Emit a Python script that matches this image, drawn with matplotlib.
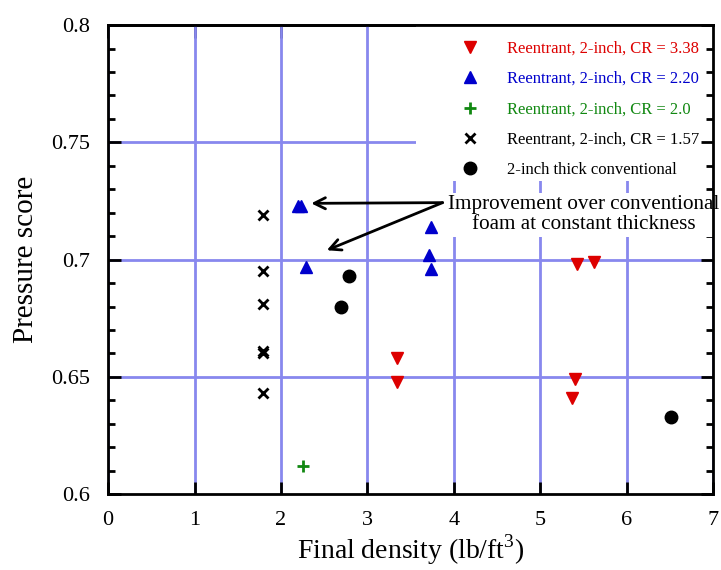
import matplotlib
matplotlib.use("Agg")
import matplotlib.pyplot as plt
from matplotlib.patches import Rectangle
from matplotlib.ticker import MultipleLocator

plt.rcParams["font.family"] = ["Liberation Serif", "DejaVu Serif"]

# data
cr338_x = [3.34, 3.34, 5.40, 5.37, 5.43, 5.62]
cr338_y = [0.658, 0.648, 0.649, 0.641, 0.698, 0.699]
cr220_x = [2.20, 2.23, 2.29, 3.74, 3.71, 3.74]
cr220_y = [0.723, 0.723, 0.697, 0.714, 0.702, 0.696]
cr20_x = [2.26]
cr20_y = [0.612]
cr157_x = [1.79, 1.79, 1.79, 1.79, 1.79, 1.79]
cr157_y = [0.719, 0.695, 0.681, 0.661, 0.660, 0.643]
conv_x = [2.79, 2.69, 6.51]
conv_y = [0.693, 0.680, 0.633]

labels = ["Reentrant, 2-inch, CR = 3.38", "Reentrant, 2-inch, CR = 2.20",
          "Reentrant, 2-inch, CR = 2.0", "Reentrant, 2-inch, CR = 1.57",
          "2-inch thick conventional"]
colors = ["#dd0000", "#0000cc", "#118811", "black", "black"]

fig = plt.figure(figsize=(7.21, 5.70), dpi=100)
ax = fig.add_axes([0.150, 0.133, 0.839, 0.823])

ax.plot(cr338_x, cr338_y, "v", color=colors[0], ms=9, ls="none", label=labels[0], zorder=3)
ax.plot(cr220_x, cr220_y, "^", color=colors[1], ms=9, ls="none", label=labels[1], zorder=3)
ax.plot(cr20_x, cr20_y, "+", color=colors[2], ms=8, mew=2, ls="none", label=labels[2], zorder=3)
ax.plot(cr157_x, cr157_y, "x", color=colors[3], ms=7, mew=2, ls="none", label=labels[3], zorder=3)
ax.plot(conv_x, conv_y, "o", color=colors[4], ms=9, ls="none", label=labels[4], zorder=3)

ax.set_xlim(0, 7)
ax.set_ylim(0.6, 0.8)
ax.xaxis.set_major_locator(MultipleLocator(1))
ax.yaxis.set_minor_locator(MultipleLocator(0.01))
ax.set_yticks([0.6, 0.65, 0.7, 0.75, 0.8])
ax.set_yticklabels(["0.6", "0.65", "0.7", "0.75", "0.8"])

# grid drawn by hand so it can sit under the legend / text boxes
for v in ax.get_xticks()[1:-1]:
    ax.axvline(v, color="#8888ee", lw=2, zorder=0.5)
for v in ax.get_yticks()[1:-1]:
    ax.axhline(v, color="#8888ee", lw=2, zorder=0.5)
# white area behind the legend hides the grid there
ax.add_patch(Rectangle((0.509, 0.668), 0.491, 0.332, transform=ax.transAxes,
                       facecolor="white", edgecolor="none", zorder=1))

ax.tick_params(which="both", direction="in", top=False, right=True, width=2, labelsize=16)
ax.tick_params(which="major", length=9)
ax.tick_params(which="minor", length=5)
ax.tick_params(axis="x", pad=12)
ax.tick_params(axis="y", pad=13)
for sp in ax.spines.values():
    sp.set_linewidth(2)

# top ticks only left of the legend
top = ax.secondary_xaxis("top")
top.set_xticks(ax.get_xticks()[1:4])
top.tick_params(direction="in", length=9, width=2, labeltop=False)
top.spines["top"].set_linewidth(2)

ax.set_xlabel("Final density (lb/ft$^\\mathregular{3}$)", fontsize=20, labelpad=2)
ax.set_ylabel("Pressure score", fontsize=21, labelpad=9)

ax.legend(loc="upper right", bbox_to_anchor=(1.0, 0.995), frameon=False,
          fontsize=12, handletextpad=1.5, labelspacing=0.86,
          borderaxespad=0.4, labelcolor=colors, handlelength=1.5)

# text box sits under the spines and markers, over the grid
ax.text(5.50, 0.7191, "Improvement over conventional\nfoam at constant thickness",
        ha="center", va="center", fontsize=15.2, linespacing=1.05, zorder=2.2,
        bbox=dict(facecolor="white", edgecolor="none", pad=2))
arrow = dict(arrowstyle="->", lw=2, color="black", mutation_scale=20, shrinkA=0, shrinkB=0)
ax.annotate("", xy=(2.35, 0.724), xytext=(3.87, 0.7243), arrowprops=arrow, zorder=4)
ax.annotate("", xy=(2.53, 0.704), xytext=(3.87, 0.7243), arrowprops=arrow, zorder=4)

fig.savefig("out.png", dpi=100)
